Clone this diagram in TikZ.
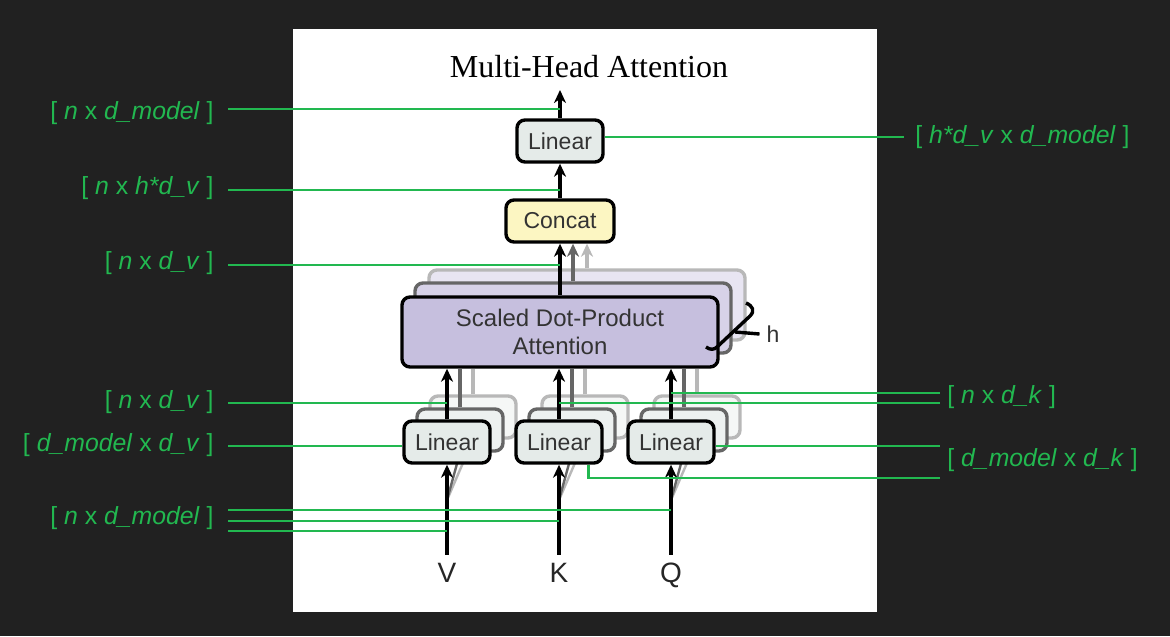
\documentclass[tikz,border=0pt]{standalone}
\usepackage{fontspec}
\setmainfont{Liberation Sans}
\newfontfamily\titlefont{Liberation Serif}
\usetikzlibrary{arrows.meta}
\definecolor{bg}{HTML}{212121}
\definecolor{lab}{HTML}{22B850}
\definecolor{linfill}{HTML}{E5EBE9}
\definecolor{catfill}{HTML}{FCF6C2}
\definecolor{attfill}{HTML}{C6BFDE}
\definecolor{txt}{HTML}{333333}
\begin{document}
\begin{tikzpicture}[x=0.5pt, y=-0.5pt,
    box/.style={draw, line width=1.7pt, rounded corners=4pt, text=txt, inner sep=0pt,
      minimum width=43pt, minimum height=21pt, font=\fontsize{11.5}{13}\selectfont},
    copyb/.style={draw=black!60},
    copyc/.style={draw=black!28},
    arr/.style={line width=1.7pt, -{Stealth[length=6.5pt, width=6pt, inset=2pt]}},
    gline/.style={lab, line width=1.3pt},
    lbl/.style={text=lab, inner sep=0pt, font=\fontsize{12.4}{15}\selectfont},
    inp/.style={text=black!85, font=\fontsize{14}{16}\selectfont, text height=10pt, text depth=0pt}]
    \fill [bg] (0,0) rectangle (1170,636);
    \fill [white] (293,29) rectangle (877,612);
    \useasboundingbox (0,0) rectangle (1170,636);

    % output side
    \node [font=\titlefont\fontsize{16}{18}\selectfont] (title) at (589,67) {Multi-Head Attention};
    \coordinate (out) at (560,90);
    \node [box, fill=linfill] (lin) at (560,141) {Linear};
    \node [box, fill=catfill, minimum width=54pt] (cat) at (560,221) {Concat};

    % attention, h copies
    \node [box, copyc, fill=attfill!40, minimum width=158pt, minimum height=35pt] (att3) at (587,305) {};
    \node [box, copyb, fill=attfill!70, minimum width=158pt, minimum height=35pt] (att2) at (573,318) {};
    \node [box, fill=attfill, minimum width=158pt, minimum height=35pt, align=center,
      font=\fontsize{12}{14}\selectfont] (att) at (560,332) {Scaled Dot-Product\\Attention};
    \draw [line width=1.7pt] (746,303) .. controls (753,306) and (755,311) .. (750,316)
      -- (717,347) .. controls (714,350) and (710,350) .. (706,347);
    \node [text=txt, font=\fontsize{11.5}{13}\selectfont] (h) at (773,334) {h};
    \draw [line width=1.7pt] (735,332) -- (h.west);

    % linear copies
    \node [box, copyc, fill=linfill!40] (lv3) at (473,417) {};
    \node [box, copyc, fill=linfill!40] (lk3) at (585,417) {};
    \node [box, copyc, fill=linfill!40] (lq3) at (697,417) {};
    \node [box, copyb, fill=linfill!70] (lv2) at (460,430) {};
    \node [box, copyb, fill=linfill!70] (lk2) at (572,430) {};
    \node [box, copyb, fill=linfill!70] (lq2) at (684,430) {};
    \draw [line width=1.7pt, black!28] (lv3) -- (lv3 |- att.south);
    \draw [line width=1.7pt, black!28] (lk3) -- (lk3 |- att.south);
    \draw [line width=1.7pt, black!28] (lq3) -- (lq3 |- att.south);
    \draw [line width=1.7pt, black!60] (lv2) -- (lv2 |- att.south);
    \draw [line width=1.7pt, black!60] (lk2) -- (lk2 |- att.south);
    \draw [line width=1.7pt, black!60] (lq2) -- (lq2 |- att.south);
    \draw [arr, black!28] (att3) -- (att3 |- cat.south);
    \draw [arr, black!60] (att2) -- (att2 |- cat.south);

    % inputs
    \node [inp] (v) at (447,572) {V};
    \node [inp] (k) at (559,572) {K};
    \node [inp] (q) at (671,572) {Q};
    \coordinate (vs) at (447,500);
    \coordinate (ks) at (559,500);
    \coordinate (qs) at (671,500);
    \draw [line width=1.2pt, black!28] (vs) -- (lv3.south);
    \draw [line width=1.2pt, black!28] (ks) -- (lk3.south);
    \draw [line width=1.2pt, black!28] (qs) -- (lq3.south);
    \draw [line width=1.2pt, black!60] (vs) -- (lv2.south);
    \draw [line width=1.2pt, black!60] (ks) -- (lk2.south);
    \draw [line width=1.2pt, black!60] (qs) -- (lq2.south);
    \node [box, fill=linfill] (lv) at (447,442) {Linear};
    \node [box, fill=linfill] (lk) at (559,442) {Linear};
    \node [box, fill=linfill] (lq) at (671,442) {Linear};

    \draw [arr] (v) -- (lv);
    \draw [arr] (k) -- (lk);
    \draw [arr] (q) -- (lq);
    \draw [arr] (lv) -- (lv |- att.south);
    \draw [arr] (lk) -- (lk |- att.south);
    \draw [arr] (lq) -- (lq |- att.south);
    \draw [arr] (att) -- (cat);
    \draw [arr] (cat) -- (lin);
    \draw [arr] (lin) -- (out);

    % shapes
    \node [lbl, anchor=east] (l1) at (214,113) {[ \textit{n} x \textit{d\_model} ]};
    \node [lbl, anchor=east] (l2) at (214,188) {[ \textit{n} x \textit{h*d\_v} ]};
    \node [lbl, anchor=east] (l3) at (214,263) {[ \textit{n} x \textit{d\_v} ]};
    \node [lbl, anchor=east] (l4) at (214,402) {[ \textit{n} x \textit{d\_v} ]};
    \node [lbl, anchor=east] (l5) at (214,445) {[ \textit{d\_model} x \textit{d\_v} ]};
    \node [lbl, anchor=east] (l6) at (214,518) {[ \textit{n} x \textit{d\_model} ]};
    \node [lbl, anchor=west] (r1) at (915,137) {[ \textit{h*d\_v} x \textit{d\_model} ]};
    \node [lbl, anchor=west] (r2) at (947,397) {[ \textit{n} x \textit{d\_k} ]};
    \node [lbl, anchor=west] (r3) at (947,460) {[ \textit{d\_model} x \textit{d\_k} ]};

    \coordinate (s1) at (228,109);
    \coordinate (s2) at (228,190);
    \coordinate (s3) at (228,265);
    \coordinate (s4) at (228,403);
    \coordinate (s5) at (228,446);
    \coordinate (s6a) at (228,510);
    \coordinate (s6b) at (228,521);
    \coordinate (s6c) at (228,531);
    \coordinate (t1) at (904,137);
    \coordinate (t2a) at (940,393);
    \coordinate (t2b) at (940,403);
    \coordinate (t3a) at (940,446);
    \coordinate (t3b) at (940,478);
    \draw [gline] (s1) -- (s1 -| lin.north);
    \draw [gline] (s2) -- (s2 -| lin.south);
    \draw [gline] (s3) -- (s3 -| cat.south);
    \draw [gline] (s4) -- (s4 -| lv.north);
    \draw [gline] (s5) -- (s5 -| lv.west);
    \draw [gline] (s6a) -- (s6a -| lq.south);
    \draw [gline] (s6b) -- (s6b -| lk.south);
    \draw [gline] (s6c) -- (s6c -| lv.south);
    \draw [gline] (lin.east |- t1) -- (t1);
    \draw [gline] (t2a -| lq.north) -- (t2a);
    \draw [gline] (t2b -| lk.north) -- (t2b);
    \draw [gline] (t3a -| lq.east) -- (t3a);
    \draw [gline] ([xshift=-7.5pt]lk.south east) |- (t3b);
\end{tikzpicture}
\end{document}
